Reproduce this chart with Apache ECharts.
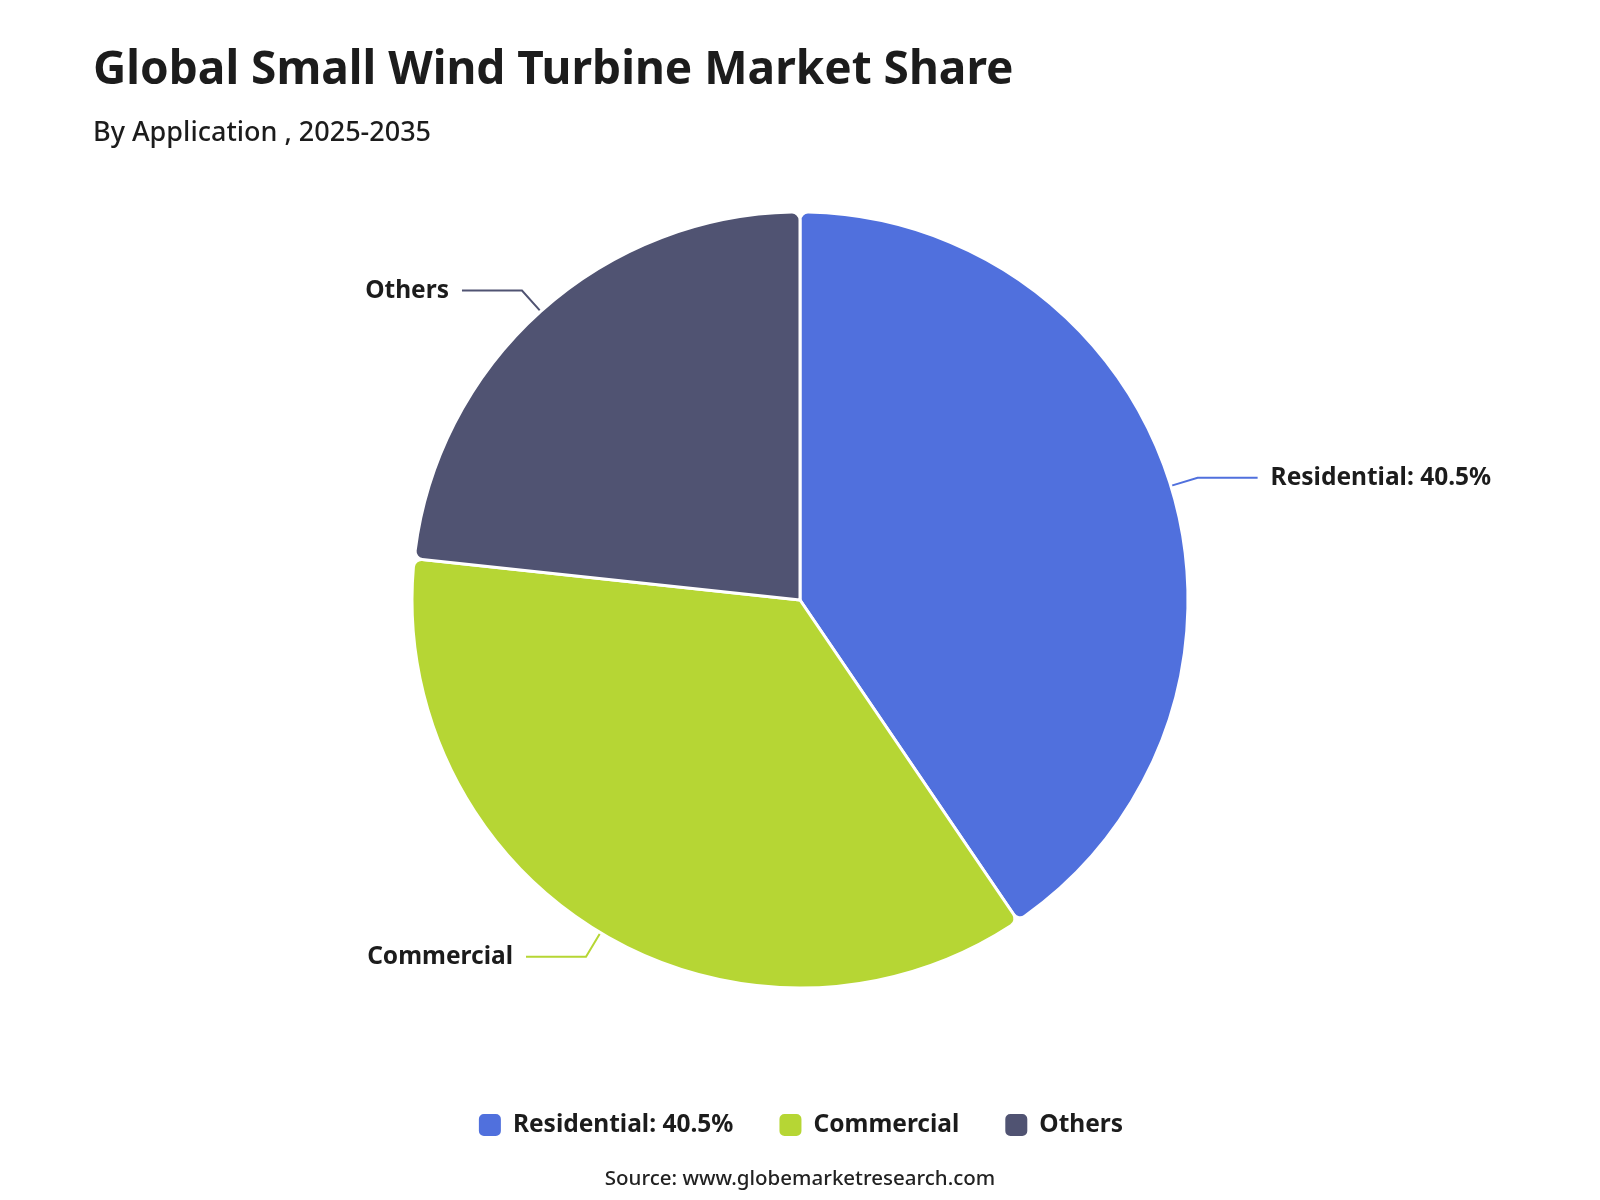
<!DOCTYPE html>
<html>
<head>
<meta charset="utf-8">
<script src="https://cdn.jsdelivr.net/npm/echarts@6/dist/echarts.min.js"></script>
<style>
  html, body { margin: 0; padding: 0; background: #fff; }
  #main { width: 1600px; height: 1200px; }
</style>
</head>
<body>
<div id="main"></div>
<script>
// data
var categories = ['Residential: 40.5%', 'Commercial', 'Others'];
var shares = [40.5, 36.2, 23.3];
var colors = ['#5070dd', '#b6d634', '#505372'];

var font = '"Noto Sans", sans-serif';

var myChart = echarts.init(document.getElementById('main'));
var option = {
    color: colors,
    textStyle: { fontFamily: font },
    title: [
        {
            text: 'Global Small Wind Turbine Market Share',
            subtext: 'By Application , 2025-2035',
            left: 88,
            top: 43,
            itemGap: 26,
            textStyle: { fontSize: 46, fontWeight: 'bold', color: '#1c1c1c', fontFamily: font },
            subtextStyle: { fontSize: 27, fontWeight: 500, color: '#1c1c1c', fontFamily: font }
        },
        {
            text: 'Source: www.globemarketresearch.com',
            left: 'center',
            top: 1164,
            textStyle: { fontSize: 20.5, fontWeight: 500, color: '#222', fontFamily: font }
        }
    ],
    legend: {
        top: 1107,
        left: 'center',
        itemWidth: 24,
        itemHeight: 24,
        itemGap: 44,
        icon: 'roundRect',
        textStyle: {
            fontSize: 24.5, fontWeight: 'bold', color: '#1c1c1c', fontFamily: font,
            padding: [0, 0, 0, 6]
        },
        data: categories
    },
    series: [
        {
            type: 'pie',
            center: [800, 600],
            radius: [0, 388],
            startAngle: 90,
            clockwise: true,
            itemStyle: { borderColor: '#fff', borderWidth: 3, borderRadius: 8 },
            label: {
                formatter: '{b}',
                fontSize: 24.5,
                fontWeight: 'bold',
                color: '#1c1c1c',
                fontFamily: font,
                distanceToLabelLine: 13
            },
            labelLine: { length: 28, length2: 60, lineStyle: { width: 2 } },
            data: categories.map(function (c, i) {
                return { name: c, value: shares[i] };
            })
        }
    ]
};
myChart.setOption(option);
</script>
</body>
</html>
